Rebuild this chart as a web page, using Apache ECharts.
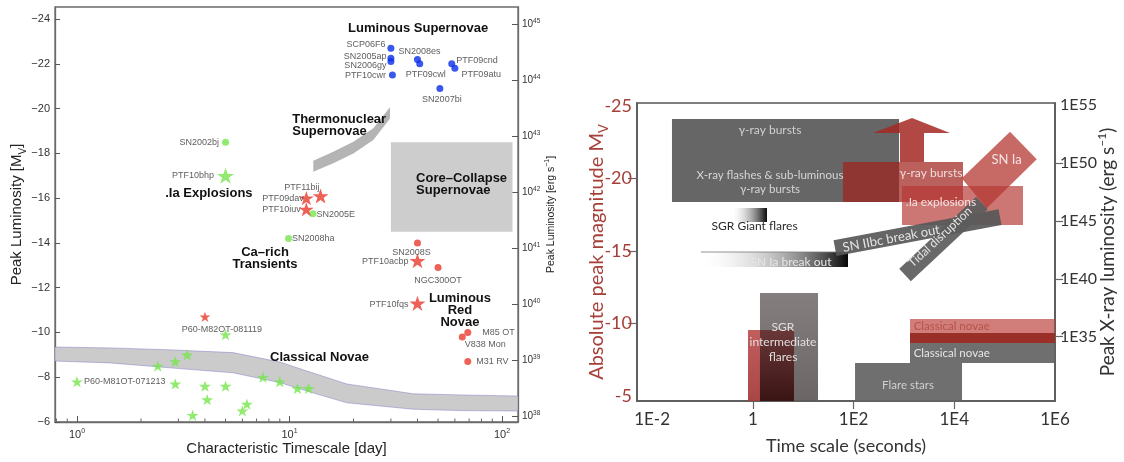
<!DOCTYPE html>
<html><head><meta charset="utf-8">
<script src="https://cdn.jsdelivr.net/npm/echarts@6/dist/echarts.min.js"></script>
<style>html,body{margin:0;padding:0;background:#fff}#c{width:1124px;height:462px}</style>
</head><body><div id="c"></div>
<script>
// ================= LEFT PANEL DATA =================
const xTicksLeft = [1, 10, 100];
const xMinorLeft = [0.8, 0.9, 2, 3, 4, 5, 6, 7, 8, 9, 20, 30, 40, 50, 60, 70, 80, 90];
const yTicksLeft = [-24, -22, -20, -18, -16, -14, -12, -10, -8, -6];
const lumTicksLeft = [38, 39, 40, 41, 42, 43, 44, 45];

const blueNames = ['SCP06F6', 'SN2005ap', 'SN2006gy', 'PTF10cwr', 'SN2008es', 'PTF09cwl', 'PTF09cnd', 'PTF09atu', 'SN2007bi'];
const blueT = [30, 30, 30, 30.5, 40, 41, 58, 60, 51];
const blueM = [-22.7, -22.25, -22.1, -21.5, -22.2, -22.0, -22.0, -21.8, -20.9];

const greenCircleNames = ['SN2002bj', 'SN2005E', 'SN2008ha'];
const greenCircleT = [5.0, 12.9, 9.9];
const greenCircleM = [-18.5, -15.3, -14.2];

const greenStarNames = ['PTF10bhp', 'P60-M81OT-071213', '', '', '', '', '', '', '', '', '', '', '', '', '', '', ''];
const greenStarT = [5.0, 1.0, 2.4, 2.9, 3.3, 2.9, 4.0, 4.1, 3.5, 5.0, 5.0, 6.0, 6.3, 7.5, 9.0, 10.9, 12.3];
const greenStarM = [-17.0, -7.8, -8.5, -8.7, -9.0, -7.7, -7.6, -7.0, -6.3, -7.6, -9.9, -6.5, -6.8, -8.0, -7.8, -7.5, -7.5];

const redStarNames = ['P60-M82OT-081119', 'PTF11bij', 'PTF09dav', 'PTF10iuv', 'PTF10acbp', 'PTF10fqs'];
const redStarT = [4.0, 14, 12, 12, 40, 40];
const redStarM = [-10.7, -16.1, -16.0, -15.5, -13.2, -11.3];

const redCircleNames = ['SN2008S', 'NGC300OT', 'M85 OT', 'V838 Mon', 'M31 RV'];
const redCircleT = [40, 50, 69, 65, 69];
const redCircleM = [-14.0, -12.9, -10.0, -9.8, -8.7];

// Shaded regions
const novaeBandT = [0.788, 1.43, 2.65, 5.42, 9.0, 12.5, 18.6, 38.2, 63.5, 118.9];
const novaeBandUpper = [-9.35, -9.31, -9.23, -9.10, -8.68, -8.23, -7.70, -7.26, -7.21, -7.16];
const novaeBandLower = [-8.72, -8.64, -8.43, -8.20, -7.76, -7.34, -6.86, -6.57, -6.51, -6.49];

const thermoBandT = [12.94, 16.07, 19.97, 24.8, 29.7];
const thermoBandUpper = [-17.67, -18.07, -18.52, -19.12, -20.06];
const thermoBandLower = [-17.18, -17.56, -18.0, -18.6, -19.56];

const ccRectT = [30, 112];
const ccRectM = [-18.5, -14.5];

const leftNotes = ['Luminous Supernovae', 'Thermonuclear\nSupernovae', 'Core\u2013Collapse\nSupernovae', '.Ia Explosions', 'Ca\u2013rich\nTransients', 'Luminous\nRed\nNovae', 'Classical Novae'];
const leftNoteT = [40.3, 10.3, 39.4, 2.6, 7.67, 63.4, 8.1];
const leftNoteM = [-23.6, -19.26, -16.63, -16.23, -13.32, -11.0, -8.9];

// ================= RIGHT PANEL DATA =================
const xTicksRight = [0.01, 1, 100, 1e4, 1e6];
const xTickMarksRight = [1, 100, 1e4];
const magTicksRight = [-25, -20, -15, -10, -5];
const magTickMarksRight = [-20, -15, -10];
const lumTicksRight = [35, 40, 45, 50, 55];
const lumTickMarksRight = [35, 40, 45, 50];

const boxNames = ['grbGray', 'sgrIntRed', 'sgrIntGray', 'flareStars', 'novaeGray', 'novaeRed', 'grbRed', 'dotIa'];
const boxT0 = [0.0248, 0.802, 1.387, 107, 1321, 1321, 61.8, 916];
const boxT1 = [800, 6.57, 19.7, 14250, 1000000, 1000000, 14900, 231700];
const boxMTop = [-24.10, -9.56, -12.11, -7.28, -9.35, -10.31, -21.13, -19.48];
const boxMBot = [-18.38, -4.66, -4.66, -4.66, -7.28, -8.66, -18.38, -16.79];
// pairs of boxes whose overlap is shown darker
const overlapPairs = [['sgrIntRed', 'sgrIntGray'], ['novaeRed', 'novaeGray']];

const gradNames = ['sgrGiant', 'snIaBreakout'];
const gradT0 = [0.404, 0.0778];
const gradT1 = [1.91, 77.6];
const gradMTop = [-17.96, -14.93];
const gradMBot = [-16.99, -13.90];

// arrow: shaft left, shaft right, head left, head right, tip
const arrowT = [836, 2506, 243, 8220, 1449];
// base, head base, tip
const arrowM = [-21.13, -23.13, -24.17];

const snIaT = [127900, 433600, 44060, 14060];
const snIaM = [-23.22, -21.32, -17.94, -20.01];

const barNames = ['snIIbc', 'tidal'];
const barT0 = [42.9, 1052];
const barM0 = [-15.2, -13.35];
const barT1 = [80900, 35560];
const barM1 = [-17.34, -18.31];

const rightTexts = ['\u03b3-ray bursts', 'X-ray flashes & sub-luminous\n\u03b3-ray bursts', '\u03b3-ray bursts', '.Ia explosions', 'SN Ia', 'SN IIbc break out', 'Tidal disruption', 'SGR Giant flares', 'SN Ia break out', 'SGR\nintermediate\nflares', 'Flare stars', 'Classical novae', 'Classical novae'];
const rightTextT = [2.19, 2.19, 3450, 5450, 108900, 560, 5210, 1.084, 5.73, 3.97, 1205, 8890, 8890];
const rightTextM = [-23.34, -19.72, -20.38, -18.38, -21.27, -15.85, -15.96, -16.72, -14.24, -8.73, -5.77, -9.83, -7.97];

// ================= STYLES =================
const FL = "'Liberation Sans', Arial, Helvetica, sans-serif";
const FR = "Lato, 'Noto Sans', sans-serif";
const STAR = 'path://M50,0 L61.8,35.1 L98.9,35.1 L68.9,56.8 L80.3,91.9 L50,70.2 L19.7,91.9 L31.1,56.8 L1.1,35.1 L38.2,35.1 Z';
const GREEN = '#74e64c', RED = '#e8392c', BLUE = '#0a2ee8';
const DARKRED = '#a53f38';

const labelPlace = {
  'SN2002bj': ['left', [0, 0]], 'PTF10bhp': ['left', [0, 0]], 'SN2005E': ['right', [-3, 1]], 'SN2008ha': ['right', [-3, 0]],
  'P60-M81OT-071213': ['right', [-2, 0]], 'P60-M82OT-081119': ['bottom', [17, 0]],
  'PTF11bij': ['left', [10, -8]], 'PTF09dav': ['left', [8, 0]], 'PTF10iuv': ['left', [5, 0]],
  'SN2008S': ['bottom', [-6, -1]], 'PTF10acbp': ['left', [2, 1]], 'NGC300OT': ['bottom', [0, 2]], 'PTF10fqs': ['left', [2, 1]],
  'M85 OT': ['right', [8, 0]], 'V838 Mon': ['right', [-4, 8]], 'M31 RV': ['right', [2, 0]],
  'SCP06F6': ['left', [1, -4]], 'SN2005ap': ['left', [2, -2]], 'SN2006gy': ['left', [2, 4]], 'PTF10cwr': ['left', [0, 0]],
  'SN2008es': ['top', [2, 3]], 'PTF09cwl': ['bottom', [6, 0]], 'PTF09cnd': ['right', [-2, -3]], 'PTF09atu': ['right', [0, 6]],
  'SN2007bi': ['bottom', [2, 0]]
};
const bigStars = {'PTF10bhp': 17, 'PTF11bij': 16, 'PTF09dav': 15, 'PTF10iuv': 15, 'PTF10acbp': 16, 'PTF10fqs': 16, 'P60-M82OT-081119': 11};

const leftNoteAlign = ['center', 'left', 'left', 'left', 'center', 'center', 'left'];

const boxStyle = {
  grbGray: {fill: 'rgba(90,90,90,0.93)'},
  sgrIntGray: {fill: {type: 'linear', x: 0, y: 0, x2: 0, y2: 1, colorStops: [{offset: 0, color: 'rgba(120,112,112,0.9)'}, {offset: 1, color: 'rgba(95,88,88,0.92)'}]}},
  sgrIntRed: {fill: {type: 'linear', x: 0, y: 0, x2: 0, y2: 1, colorStops: [{offset: 0, color: 'rgba(190,85,85,0.95)'}, {offset: 1, color: 'rgba(165,60,60,0.95)'}]}},
  flareStars: {fill: 'rgba(100,100,100,0.93)'},
  novaeGray: {fill: 'rgba(100,100,100,0.93)'},
  novaeRed: {fill: 'rgba(190,70,65,0.7)'},
  grbRed: {fill: 'rgba(160,35,30,0.72)'},
  dotIa: {fill: 'rgba(182,55,50,0.68)'}
};
// overlap fill, keyed by the first box of each pair
const overlapStyle = {
  sgrIntRed: {fill: {type: 'linear', x: 0, y: 0, x2: 0, y2: 1, colorStops: [{offset: 0, color: '#6a3838'}, {offset: 1, color: '#3a1414'}]}},
  novaeRed: {fill: '#9a2f28'}
};
const gradStyle = {
  sgrGiant: [{offset: 0, color: 'rgba(255,255,255,0.2)'}, {offset: 1, color: '#0a0a0a'}],
  snIaBreakout: [{offset: 0, color: 'rgba(255,255,255,0)'}, {offset: 1, color: '#080808'}]
};
const barStyle = {snIIbc: {w: 16, fill: 'rgba(88,88,88,0.92)'}, tidal: {w: 17, fill: 'rgba(92,92,92,0.92)'}};
const rightTextStyle = [
  {c: '#d0d0d0', s: 12}, {c: '#d6d6d6', s: 11.5}, {c: '#f0dcdc', s: 12}, {c: '#f3e3e3', s: 12}, {c: '#f3e3e3', s: 13},
  {c: '#e4e4e4', s: 13, bar: 'snIIbc'}, {c: '#e4e4e4', s: 12, bar: 'tidal'}, {c: '#2a2a2a', s: 12}, {c: '#e6e6e6', s: 12},
  {c: '#e2dede', s: 12, lh: 15}, {c: '#d0d0d0', s: 11.5}, {c: '#b8524c', s: 11.5}, {c: '#e6e6e6', s: 11.5}
];

// ================= HELPERS =================
function pts(arrT, arrM) { return arrT.map((t, i) => [t, arrM[i]]); }
function scatterData(names, T, M) {
  return names.map((n, i) => {
    const d = {name: n, value: [T[i], M[i]]};
    if (bigStars[n]) d.symbolSize = bigStars[n];
    if (n && labelPlace[n]) d.label = {show: true, position: labelPlace[n][0], offset: labelPlace[n][1]};
    return d;
  });
}
const ptLabel = {show: false, formatter: '{b}', fontSize: 9, color: '#333', fontFamily: FL, distance: 3};
function bandRender(T, U, L, fill, stroke) {
  return function (params, api) {
    if (params.dataIndex !== 0) return null;
    const p = [];
    for (let i = 0; i < T.length; i++) p.push(api.coord([T[i], U[i]]));
    for (let i = T.length - 1; i >= 0; i--) p.push(api.coord([T[i], L[i]]));
    return {type: 'polygon', shape: {points: p, smooth: 0}, style: {fill: fill, stroke: stroke, lineWidth: stroke ? 0.8 : 0}};
  };
}
function barPoly(api, i) {
  const a = api.coord([barT0[i], barM0[i]]), b = api.coord([barT1[i], barM1[i]]);
  const dx = b[0] - a[0], dy = b[1] - a[1], L = Math.hypot(dx, dy);
  const h = barStyle[barNames[i]].w / 2;
  const nx = -dy / L * h, ny = dx / L * h;
  return {pts: [[a[0] + nx, a[1] + ny], [b[0] + nx, b[1] + ny], [b[0] - nx, b[1] - ny], [a[0] - nx, a[1] - ny]], ang: Math.atan2(a[1] - b[1], b[0] - a[0])};
}
function boxRect(api, j) {
  const a = api.coord([boxT0[j], boxMTop[j]]), b = api.coord([boxT1[j], boxMBot[j]]);
  return {x: a[0], y: a[1], width: b[0] - a[0], height: b[1] - a[1]};
}

// ================= CHART =================
const chart = echarts.init(document.getElementById('c'), null, {renderer: 'canvas'});
const supRich = {b: {fontSize: 11, fontFamily: FL, color: '#333', lineHeight: 14}, s: {fontSize: 7, fontFamily: FL, color: '#333', verticalAlign: 'top', lineHeight: 14}};
const supRichSmall = {b: {fontSize: 10, fontFamily: FL, color: '#333', lineHeight: 13}, s: {fontSize: 6.5, fontFamily: FL, color: '#333', verticalAlign: 'top', lineHeight: 13}};

const option = {
  animation: false,
  backgroundColor: '#fff',
  grid: [
    {left: 55, top: 7, right: 606, bottom: 40, show: true, borderColor: '#6b6b6b', borderWidth: 1.3, backgroundColor: 'transparent'},
    {left: 637, top: 103, right: 69, bottom: 61, show: true, borderColor: '#555', borderWidth: 1.5, backgroundColor: 'transparent'}
  ],
  xAxis: [
    {gridIndex: 0, type: 'log', min: 0.788, max: 118.9, position: 'bottom',
     name: 'Characteristic Timescale [day]', nameLocation: 'middle', nameGap: 19, nameMoveOverlap: false,
     nameTextStyle: {fontSize: 15, fontFamily: FL, color: '#222'},
     axisLine: {show: true, lineStyle: {color: '#6b6b6b', width: 1.3}},
     axisTick: {show: true, inside: true, length: 6, customValues: xTicksLeft, lineStyle: {color: '#555'}},
     axisLabel: {customValues: xTicksLeft, margin: 6, formatter: v => '{b|10}{s|' + Math.round(Math.log10(v)) + '}', rich: supRich},
     splitLine: {show: false}, minorTick: {show: false}},
    {gridIndex: 1, type: 'log', min: 0.005012, max: 1e6, position: 'bottom',
     name: 'Time scale (seconds)', nameLocation: 'middle', nameGap: 36, nameMoveOverlap: false,
     nameTextStyle: {fontSize: 18, fontFamily: FR, color: '#333'},
     axisLine: {show: true, lineStyle: {color: '#555', width: 1.5}},
     axisTick: {show: true, inside: false, length: 8, customValues: xTickMarksRight, lineStyle: {color: '#666', width: 1.2}},
     axisLabel: {customValues: xTicksRight, margin: 10, fontSize: 17, fontFamily: FR, color: '#333',
       formatter: v => (Math.abs(v - 1) < 1e-9 ? '1' : '1E' + Math.round(Math.log10(v)))},
     splitLine: {show: false}}
  ],
  yAxis: [
    {gridIndex: 0, type: 'value', inverse: true, min: -24.54, max: -6, position: 'left',
     name: 'Peak Luminosity [M{sub|V}]', nameLocation: 'middle', nameGap: 27, nameRotate: 90, nameMoveOverlap: false,
     nameTextStyle: {fontSize: 15, fontFamily: FL, color: '#222', rich: {sub: {fontSize: 10, fontFamily: FL, color: '#222', verticalAlign: 'bottom', lineHeight: 22}}},
     axisLine: {show: true, lineStyle: {color: '#6b6b6b', width: 1.3}},
     axisTick: {show: true, inside: true, length: 5, customValues: yTicksLeft, lineStyle: {color: '#555'}},
     axisLabel: {customValues: yTicksLeft, margin: 5, fontSize: 11, fontFamily: FL, color: '#333',
       formatter: v => (v < 0 ? '\u2212' : '') + Math.abs(v)},
     splitLine: {show: false}},
    {gridIndex: 0, type: 'value', min: 37.892, max: 45.308, position: 'right',
     name: 'Peak Luminosity [erg s{s|\u22121}]', nameLocation: 'middle', nameGap: 26, nameRotate: 90, nameMoveOverlap: false,
     nameTextStyle: {fontSize: 10.5, fontFamily: FL, color: '#222', rich: {s: {fontSize: 7, fontFamily: FL, color: '#222', verticalAlign: 'top', lineHeight: 14}}},
     axisLine: {show: true, lineStyle: {color: '#6b6b6b', width: 1.3}},
     axisTick: {show: true, inside: true, length: 6, customValues: lumTicksLeft, lineStyle: {color: '#555'}},
     axisLabel: {customValues: lumTicksLeft, margin: 4, formatter: v => '{b|10}{s|' + v + '}', rich: supRichSmall},
     splitLine: {show: false}},
    {gridIndex: 1, type: 'value', inverse: true, min: -25.2, max: -4.66, position: 'left',
     name: 'Absolute peak magnitude M{sub|V}', nameLocation: 'middle', nameGap: 27, nameRotate: 90, nameMoveOverlap: false,
     nameTextStyle: {fontSize: 20, fontFamily: FR, color: DARKRED, rich: {sub: {fontSize: 13, fontFamily: FR, color: DARKRED, verticalAlign: 'bottom', lineHeight: 26}}},
     axisLine: {show: true, lineStyle: {color: '#555', width: 1.5}},
     axisTick: {show: true, inside: false, length: 9, customValues: magTickMarksRight, lineStyle: {color: '#666', width: 1.2}},
     axisLabel: {customValues: magTicksRight, margin: 5, fontSize: 18, fontFamily: FR, color: DARKRED, formatter: v => String(v)},
     splitLine: {show: false}},
    {gridIndex: 1, type: 'value', min: 29.44, max: 55.2, position: 'right',
     name: 'Peak X-ray luminosity (erg s{s|\u22121})', nameLocation: 'middle', nameGap: 41, nameRotate: 90, nameMoveOverlap: false,
     nameTextStyle: {fontSize: 19, fontFamily: FR, color: '#333', rich: {s: {fontSize: 12, fontFamily: FR, color: '#333', verticalAlign: 'top', lineHeight: 24}}},
     axisLine: {show: true, lineStyle: {color: '#555', width: 1.5}},
     axisTick: {show: true, inside: false, length: 8, customValues: lumTickMarksRight, lineStyle: {color: '#666', width: 1.2}},
     axisLabel: {customValues: lumTicksRight, margin: 5, fontSize: 16, fontFamily: FR, color: '#333', formatter: v => '1E' + v},
     splitLine: {show: false}}
  ],
  series: [
    // ---------- left panel ----------
    {type: 'custom', name: 'novaeBand', xAxisIndex: 0, yAxisIndex: 0, clip: true, z: 1,
     data: pts(novaeBandT, novaeBandUpper), renderItem: bandRender(novaeBandT, novaeBandUpper, novaeBandLower, '#cbcbcb', 'rgba(110,110,200,0.55)')},
    {type: 'custom', name: 'thermoBand', xAxisIndex: 0, yAxisIndex: 0, clip: true, z: 1,
     data: pts(thermoBandT, thermoBandUpper), renderItem: bandRender(thermoBandT, thermoBandUpper, thermoBandLower, '#b4b4b4', null)},
    {type: 'custom', name: 'ccRect', xAxisIndex: 0, yAxisIndex: 0, clip: true, z: 1,
     data: [[ccRectT[0], ccRectM[0]]],
     renderItem: (params, api) => {
       const a = api.coord([ccRectT[0], ccRectM[0]]), b = api.coord([ccRectT[1], ccRectM[1]]);
       return {type: 'rect', shape: {x: a[0], y: a[1], width: b[0] - a[0], height: b[1] - a[1]}, style: {fill: '#cdcdcd'}};
     }},
    {type: 'custom', name: 'minorTicks', xAxisIndex: 0, yAxisIndex: 0, z: 3, silent: true,
     data: xMinorLeft.map(v => [v, -6]),
     renderItem: (params, api) => {
       const p = api.coord([api.value(0), -6]);
       return {type: 'line', shape: {x1: p[0], y1: p[1], x2: p[0], y2: p[1] - 3.5}, style: {stroke: '#666', lineWidth: 1}};
     }},
    {type: 'scatter', name: 'greenStars', xAxisIndex: 0, yAxisIndex: 0, symbol: STAR, symbolSize: 12, symbolKeepAspect: true,
     itemStyle: {color: GREEN}, label: ptLabel, data: scatterData(greenStarNames, greenStarT, greenStarM), z: 4},
    {type: 'scatter', name: 'greenCircles', xAxisIndex: 0, yAxisIndex: 0, symbol: 'circle', symbolSize: 7,
     itemStyle: {color: GREEN}, label: ptLabel, data: scatterData(greenCircleNames, greenCircleT, greenCircleM), z: 4},
    {type: 'scatter', name: 'redStars', xAxisIndex: 0, yAxisIndex: 0, symbol: STAR, symbolSize: 15, symbolKeepAspect: true,
     itemStyle: {color: RED}, label: ptLabel, data: scatterData(redStarNames, redStarT, redStarM), z: 4},
    {type: 'scatter', name: 'redCircles', xAxisIndex: 0, yAxisIndex: 0, symbol: 'circle', symbolSize: 7,
     itemStyle: {color: RED}, label: ptLabel, data: scatterData(redCircleNames, redCircleT, redCircleM), z: 4},
    {type: 'scatter', name: 'blueCircles', xAxisIndex: 0, yAxisIndex: 0, symbol: 'circle', symbolSize: 7,
     itemStyle: {color: BLUE}, label: ptLabel, data: scatterData(blueNames, blueT, blueM), z: 4},
    {type: 'custom', name: 'leftNotes', xAxisIndex: 0, yAxisIndex: 0, z: 5, silent: true,
     data: pts(leftNoteT, leftNoteM),
     renderItem: (params, api) => {
       const i = params.dataIndex;
       const p = api.coord([leftNoteT[i], leftNoteM[i]]);
       return {type: 'text', x: p[0], y: p[1], style: {text: leftNotes[i], fill: '#111', fontSize: 13, fontWeight: 'bold', fontFamily: FL,
         align: leftNoteAlign[i], verticalAlign: 'middle', lineHeight: 12}};
     }},
    // ---------- right panel ----------
    {type: 'custom', name: 'boxes', xAxisIndex: 1, yAxisIndex: 2, clip: true, z: 2,
     data: pts(boxT0, boxMTop),
     renderItem: (params, api) => {
       const i = params.dataIndex;
       const r = boxRect(api, i);
       const children = [{type: 'rect', shape: r, style: Object.assign({}, boxStyle[boxNames[i]])}];
       overlapPairs.forEach(pair => {
         const ia = boxNames.indexOf(pair[0]), ib = boxNames.indexOf(pair[1]);
         if (i !== Math.max(ia, ib)) return;   // draw overlap on top of the later box
         const ra = boxRect(api, ia), rb = boxRect(api, ib);
         const x0 = Math.max(ra.x, rb.x), x1 = Math.min(ra.x + ra.width, rb.x + rb.width);
         const y0 = Math.max(ra.y, rb.y), y1 = Math.min(ra.y + ra.height, rb.y + rb.height);
         if (x1 > x0 && y1 > y0) children.push({type: 'rect', shape: {x: x0, y: y0, width: x1 - x0, height: y1 - y0}, style: Object.assign({}, overlapStyle[pair[0]])});
       });
       return {type: 'group', children: children};
     }},
    {type: 'custom', name: 'arrow', xAxisIndex: 1, yAxisIndex: 2, z: 2,
     data: [[arrowT[4], arrowM[2]]],
     renderItem: (params, api) => {
       const c = (t, m) => api.coord([t, m]);
       const p = [c(arrowT[0], arrowM[0]), c(arrowT[0], arrowM[1]), c(arrowT[2], arrowM[1]), c(arrowT[4], arrowM[2]),
                  c(arrowT[3], arrowM[1]), c(arrowT[1], arrowM[1]), c(arrowT[1], arrowM[0])];
       return {type: 'polygon', shape: {points: p}, style: {fill: 'rgba(165,40,34,0.85)'}};
     }},
    {type: 'custom', name: 'snIa', xAxisIndex: 1, yAxisIndex: 2, z: 2,
     data: [[snIaT[0], snIaM[0]]],
     renderItem: (params, api) => ({type: 'polygon', shape: {points: snIaT.map((t, i) => api.coord([t, snIaM[i]]))}, style: {fill: 'rgba(180,55,50,0.75)'}})},
    {type: 'custom', name: 'gradBoxes', xAxisIndex: 1, yAxisIndex: 2, z: 2,
     data: pts(gradT0, gradMTop),
     renderItem: (params, api) => {
       const i = params.dataIndex;
       const a = api.coord([gradT0[i], gradMTop[i]]), b = api.coord([gradT1[i], gradMBot[i]]);
       const children = [{type: 'rect', shape: {x: a[0], y: a[1], width: b[0] - a[0], height: b[1] - a[1]},
         style: {fill: {type: 'linear', x: 0, y: 0, x2: 1, y2: 0, colorStops: gradStyle[gradNames[i]]}}}];
       if (gradNames[i] === 'snIaBreakout') children.push({type: 'line', shape: {x1: a[0] + 4, y1: a[1], x2: b[0], y2: a[1]}, style: {stroke: 'rgba(120,120,120,0.8)', lineWidth: 1.2}});
       return {type: 'group', children: children};
     }},
    {type: 'custom', name: 'bars', xAxisIndex: 1, yAxisIndex: 2, z: 2,
     data: pts(barT0, barM0),
     renderItem: (params, api) => {
       const i = params.dataIndex;
       const bp = barPoly(api, i);
       return {type: 'polygon', shape: {points: bp.pts}, style: {fill: barStyle[barNames[i]].fill}};
     }},
    {type: 'custom', name: 'rightTexts', xAxisIndex: 1, yAxisIndex: 2, z: 6, silent: true,
     data: pts(rightTextT, rightTextM),
     renderItem: (params, api) => {
       const i = params.dataIndex;
       const st = rightTextStyle[i];
       const p = api.coord([rightTextT[i], rightTextM[i]]);
       let rot = 0;
       if (st.bar) rot = barPoly(api, barNames.indexOf(st.bar)).ang;
       return {type: 'text', x: p[0], y: p[1], rotation: rot, style: {text: rightTexts[i], fill: st.c, fontSize: st.s, fontFamily: FR,
         align: 'center', verticalAlign: 'middle', lineHeight: st.lh || st.s + 2}};
     }}
  ]
};
chart.setOption(option);
</script></body></html>
